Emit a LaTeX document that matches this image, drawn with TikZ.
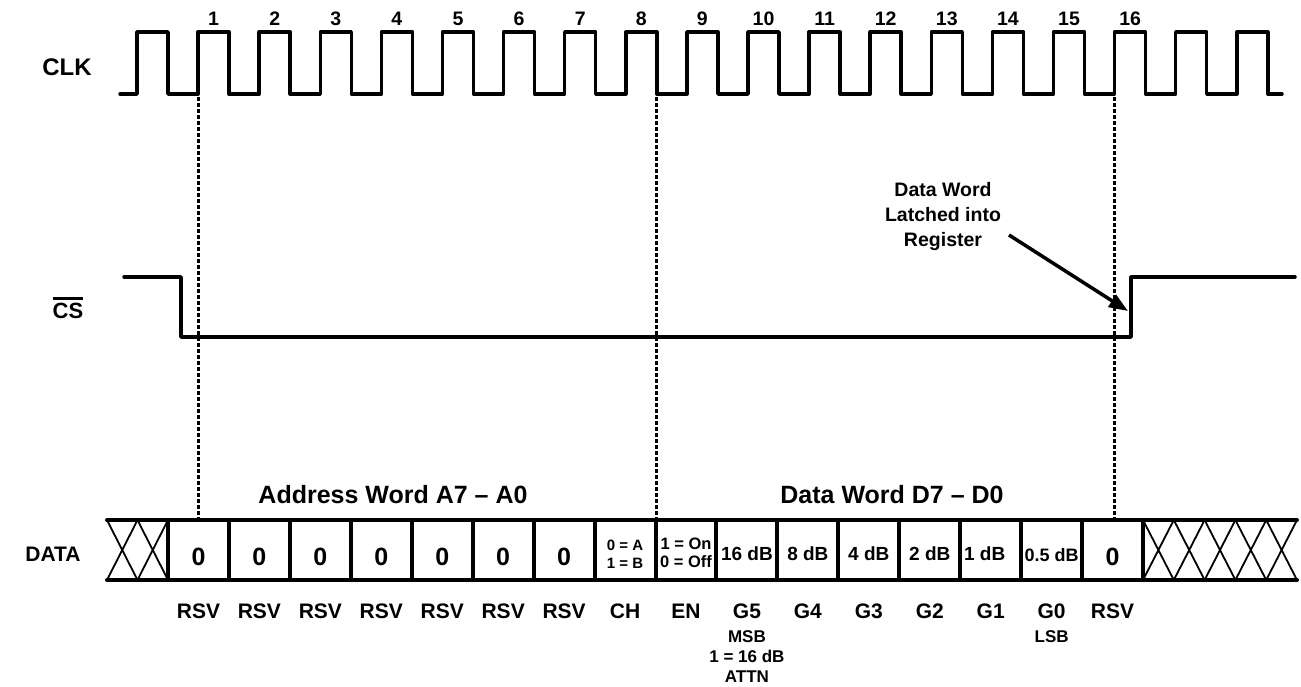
\documentclass[tikz,border=0pt]{standalone}
\usepackage{fontspec}
\setmainfont{Liberation Sans}
\usetikzlibrary{arrows.meta, positioning}

\begin{document}
\begin{tikzpicture}[
  x=1pt, y=-1pt,
  wave/.style={line width=3.5pt, line join=round, line cap=round},
  guide/.style={line width=3pt, dash pattern=on 3.5pt off 2.5pt},
  bus/.style={line width=4pt, line cap=round},
  hatch/.style={line width=1.8pt},
  txt/.style={inner sep=0pt, font=\bfseries},
  siglabel/.style={txt, font={\fontsize{24}{28}\selectfont\bfseries}},
  numlabel/.style={txt, font={\fontsize{19.5}{22}\selectfont\bfseries}},
  header/.style={txt, font={\fontsize{25}{30}\selectfont\bfseries}},
  zero/.style={txt, font={\fontsize{25}{30}\selectfont\bfseries}},
  gain/.style={txt, font={\fontsize{19}{22}\selectfont\bfseries}},
  pair/.style={txt, align=center, font={\fontsize{16.5}{18}\selectfont\bfseries}},
  bitname/.style={txt, font={\fontsize{21}{24}\selectfont\bfseries}},
  bitnote/.style={txt, align=center, font={\fontsize{17}{20}\selectfont\bfseries}},
  callout/.style={txt, align=center, font={\fontsize{19.5}{25}\selectfont\bfseries}},
  pointer/.style={line width=3.5pt, -{Triangle[length=19pt,width=14pt]}}
]
\useasboundingbox (0,0) rectangle (1301,686);

% signal names
\node[siglabel, anchor=base] (clklabel) at (67,75) {CLK};
\node[siglabel, anchor=base, font={\fontsize{22}{26}\selectfont\bfseries}] (cslabel) at (68,318) {CS};
\draw[line width=2.2pt] ([yshift=4pt]cslabel.north west) -- ([yshift=4pt]cslabel.north east);
\node[siglabel, anchor=base, font={\fontsize{21}{25}\selectfont\bfseries}] (datalabel) at (53,561) {DATA};

% clock
\draw[wave] (120,94) \foreach \k in {0,...,18} {
  -- ({137+61.1*\k},94) |- ({168+61.1*\k},32) -- ({168+61.1*\k},94) } -- (1282,94);
\foreach \n in {1,...,16}
  \node[numlabel, anchor=base] (clk\n) at ({152.5+61.1*\n},25) {\n};

% chip select
\draw[wave] (124,277) -- (181,277) -- (181,337) -- (1131,337) -- (1131,277) -- (1295,277);

% guide lines
\foreach \x in {198.1, 656.8, 1114.6}
  \draw[guide] (\x,97) -- (\x,518);

% data word
\draw[bus] (107,520) -- (1297,520);
\draw[bus] (107,580) -- (1297,580);
\foreach \i in {0,...,16}
  \draw[bus] ({168+60.94*\i},520) -- ({168+60.94*\i},580);
\foreach \x in {107, 137.5}
  \draw[hatch] (\x,520) -- ({\x+30.5},580) ({\x+30.5},520) -- (\x,580);
\foreach \j in {0,...,4}
  \draw[hatch] ({1143+30.8*\j},520) -- ({1173.8+30.8*\j},580)
               ({1173.8+30.8*\j},520) -- ({1143+30.8*\j},580);

\node[header, anchor=base] (addrword) at (393,503) {Address Word A7 -- A0};
\node[header, anchor=base] (dataword) at (892,503) {Data Word D7 -- D0};

\foreach \i in {0,...,6,15}
  \node[zero, anchor=base] (cell\i) at ({168+60.94*(\i+0.5)},565) {0};
\node[pair, font={\fontsize{15}{18}\selectfont\bfseries}] (cell7) at ({168+60.94*7.5},554) {0 = A\\1 = B};
\node[pair] (cell8) at ({168+60.94*8.5},553) {1 = On\\0 = Off};
\foreach \i/\t in {9/16 dB, 10/8 dB, 11/4 dB, 12/2 dB}
  \node[gain, anchor=base] (cell\i) at ({168+60.94*(\i+0.5)},560) {\t};
\node[gain, anchor=base] (cell13) at ({168+60.94*13.5-6},560) {1 dB};
\node[gain, anchor=base, font={\fontsize{18}{22}\selectfont\bfseries}] (cell14) at ({168+60.94*14.5},561) {0.5 dB};

% bit names
\foreach \i/\t in {0/RSV, 1/RSV, 2/RSV, 3/RSV, 4/RSV, 5/RSV, 6/RSV, 7/CH,
                   8/EN, 9/G5, 10/G4, 11/G3, 12/G2, 13/G1, 14/G0, 15/RSV}
  \node[bitname, anchor=base] (bit\i) at ({168+60.94*(\i+0.5)},618) {\t};
\node[bitnote, below=12pt of bit9] (msbnote) {MSB\\1 = 16 dB\\ATTN};
\node[bitnote, below=12pt of bit14] (lsbnote) {LSB};

% latch callout
\node[callout] (latch) at (943,216) {Data Word\\Latched into\\Register};
\coordinate (latchtail) at (1009,235);
\coordinate (csedge) at (1128,311);
\draw[pointer] (latchtail) -- (csedge);

\end{tikzpicture}
\end{document}
